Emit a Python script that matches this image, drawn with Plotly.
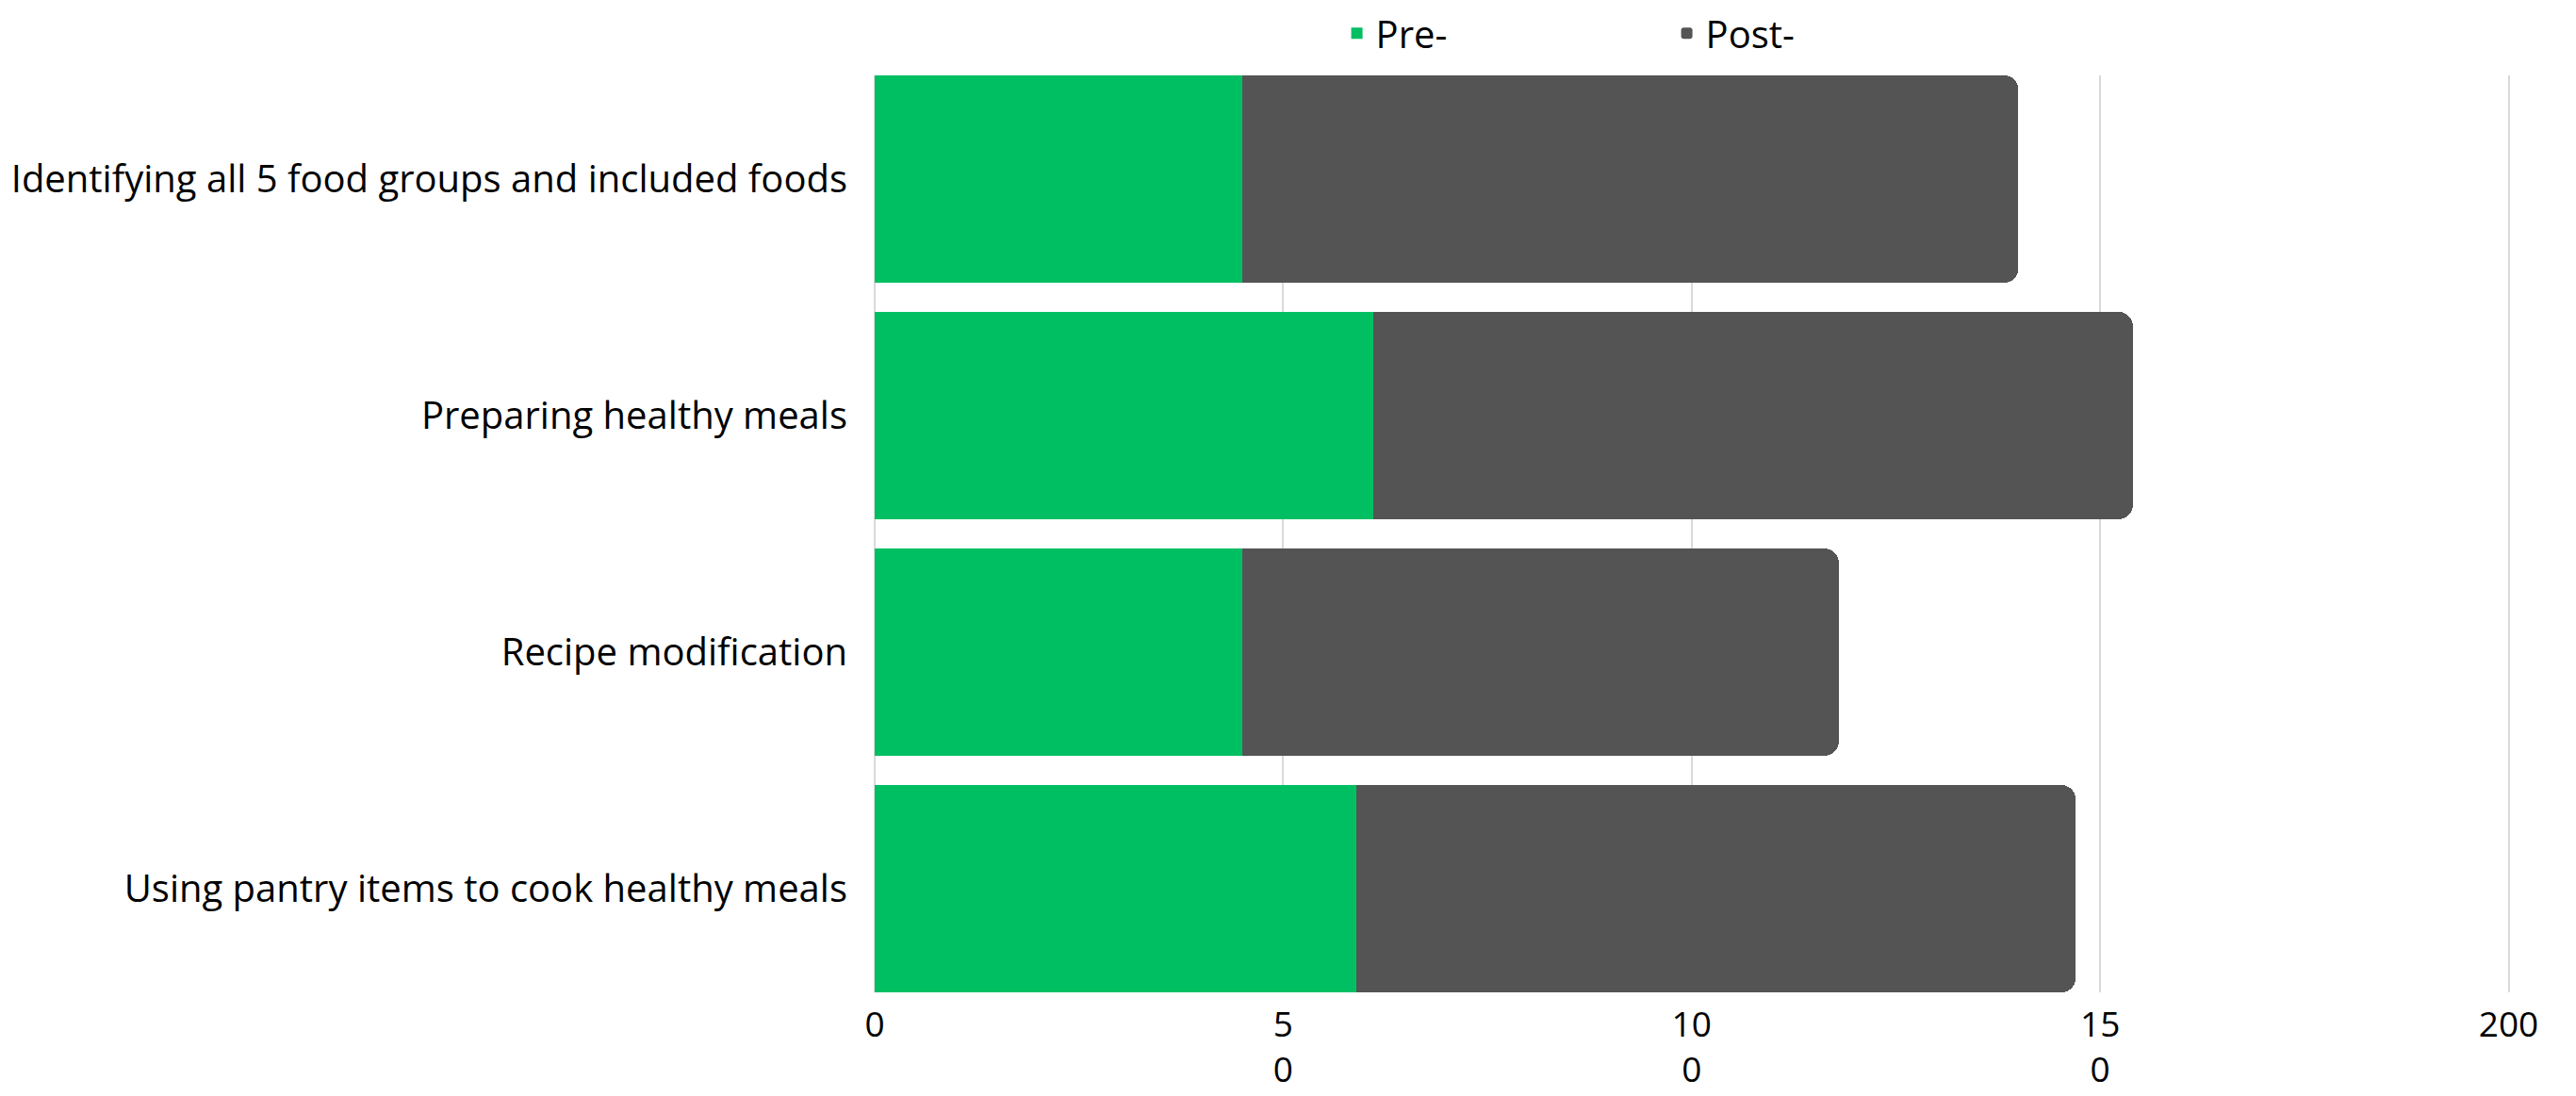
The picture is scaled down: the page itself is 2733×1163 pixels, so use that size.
import plotly.graph_objects as go

categories = [
    "Identifying all 5 food groups and included foods",
    "Preparing healthy meals",
    "Recipe modification",
    "Using pantry items to cook healthy meals",
]
pre_values = [45, 61, 45, 59]
post_values = [95, 93, 73, 88]
series_names = ["Pre-", "Post-"]
tick_values = [0, 50, 100, 150, 200]
tick_labels = ["0", "5<br>0", "10<br>0", "15<br>0", "200"]

FONT = "Open Sans"
FS = 40
fig = go.Figure()
fig.add_trace(go.Bar(
    y=categories, x=pre_values, orientation="h", name=series_names[0],
    marker=dict(color="#00BF63", line=dict(width=0)),
))
fig.add_trace(go.Bar(
    y=categories, x=post_values, orientation="h", name=series_names[1],
    marker=dict(color="#545454", line=dict(width=0), cornerradius=15),
))

fig.update_layout(
    barmode="stack",
    bargap=0.124,
    width=2733, height=1163,
    margin=dict(l=928, r=68, t=80, b=110, autoexpand=False),
    paper_bgcolor="white", plot_bgcolor="white",
    font=dict(family=FONT, size=FS, color="black"),
    showlegend=True,
    legend=dict(
        orientation="h", x=0.283, xanchor="left", y=1.046, yanchor="middle",
        entrywidth=305, entrywidthmode="pixels",
        font=dict(family=FONT, size=FS, color="black"),
        itemsizing="constant", bgcolor="rgba(0,0,0,0)",
        traceorder="normal",
    ),
    xaxis=dict(
        range=[0, 200.4], tickmode="array", tickvals=tick_values, ticktext=tick_labels,
        showgrid=True, gridcolor="#d9d9d9", gridwidth=1.5,
        zeroline=True, zerolinecolor="#d9d9d9", zerolinewidth=1.5,
        showline=False, ticks="", automargin=False,
        ticklabelstandoff=9,
        tickfont=dict(family=FONT, size=37, color="black"),
    ),
    yaxis=dict(
        categoryorder="array", categoryarray=categories,
        range=[3.438, -0.438], automargin=False,
        showgrid=False, zeroline=False, showline=False, ticks="",
        ticklabelstandoff=28,
        tickfont=dict(family=FONT, size=FS, color="black"),
    ),
)

fig.write_html("out.html")
